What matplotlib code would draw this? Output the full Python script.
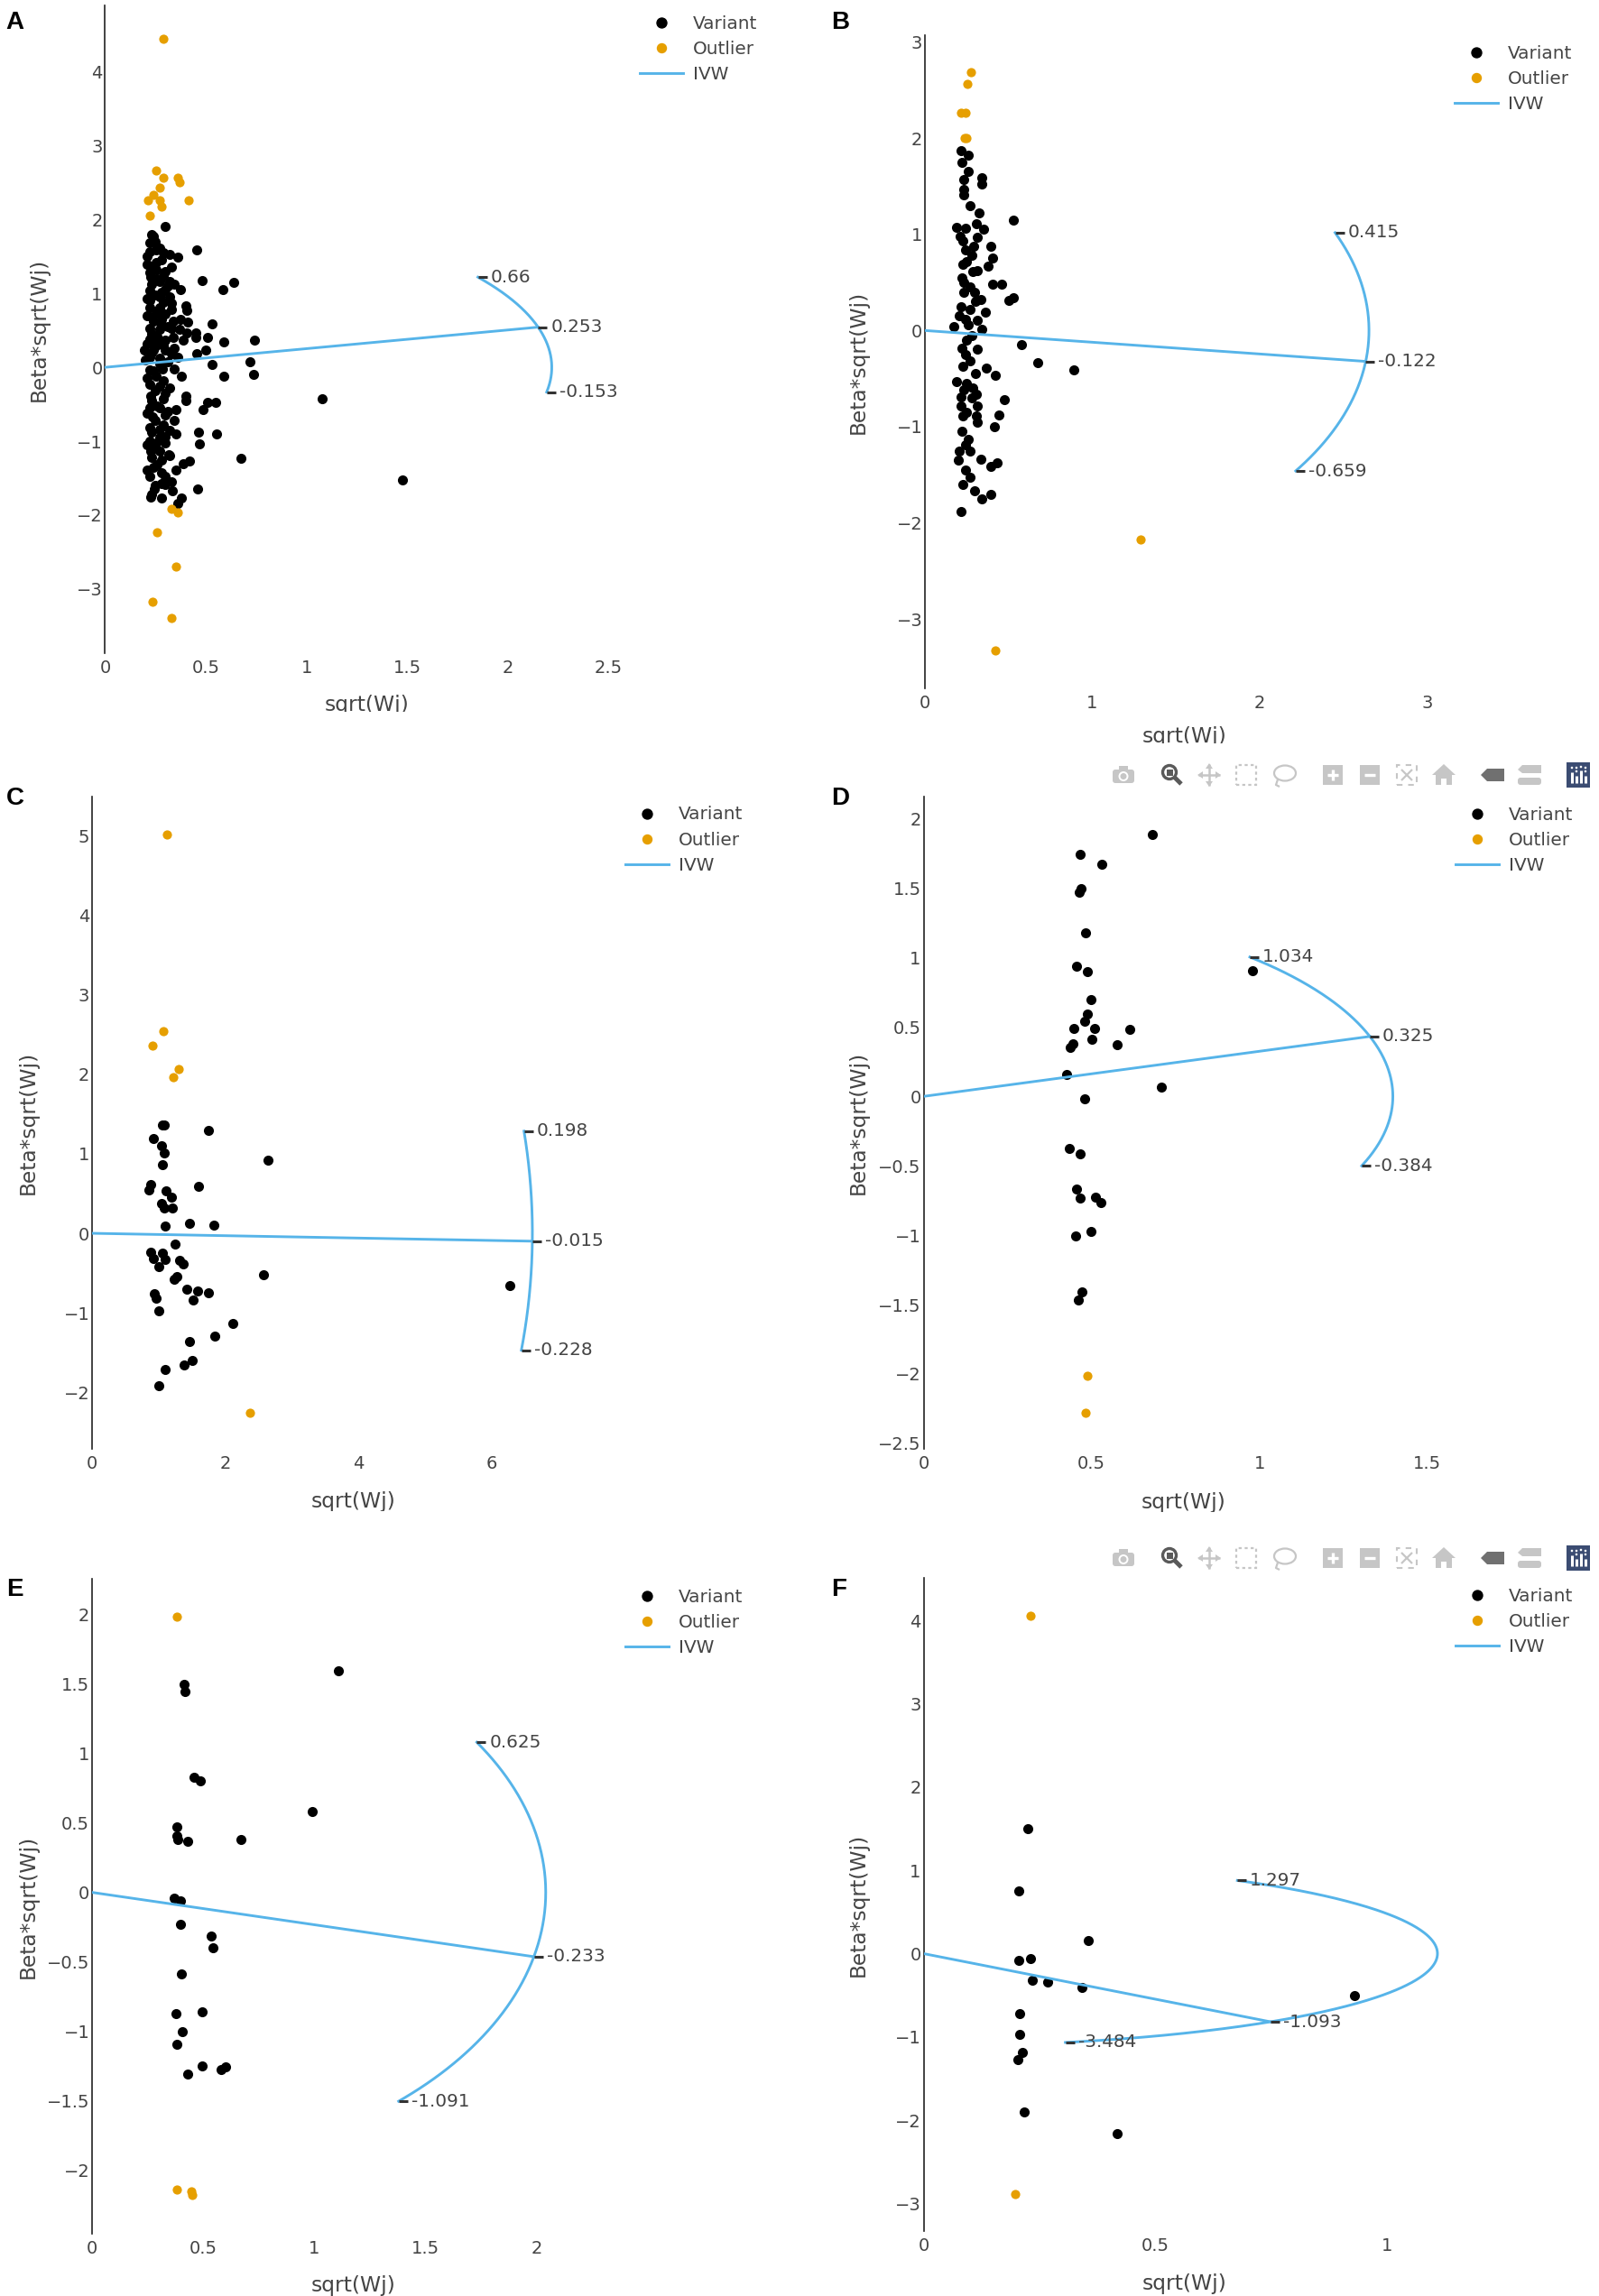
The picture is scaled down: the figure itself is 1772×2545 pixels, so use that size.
import numpy as np
import matplotlib.pyplot as plt
from matplotlib.lines import Line2D
from matplotlib.patches import Rectangle, Circle, Ellipse, Polygon, FancyBboxPatch
from matplotlib.transforms import IdentityTransform, ScaledTranslation

W, H = 1772, 2545
DPI = 100
GRAY = '#444444'
ORANGE = '#E69F00'
BLUE = '#56B4E9'

# ---------------- data ----------------
# panel A
a_variants = [
    (0.30, 1.91), (0.24, 1.77), (0.22, 1.69), (0.22, 1.57), (0.255, 1.59), (0.29, 1.55), (0.32, 1.53),
    (0.36, 1.49), (0.455, 1.59), (0.21, 1.40), (0.255, 1.42), (0.33, 1.36), (0.255, 1.32), (0.225, 1.22),
    (0.29, 1.24), (0.27, 1.16), (0.32, 1.16), (0.345, 1.12), (0.48, 1.17), (0.64, 1.15), (0.585, 1.057),
    (0.22, 1.04), (0.30, 1.057), (0.375, 1.057), (0.21, 0.935), (0.27, 0.955), (0.33, 0.875), (0.22, 0.81),
    (0.27, 0.81), (0.40, 0.83), (0.405, 0.77), (0.235, 0.69), (0.28, 0.65), (0.34, 0.63), (0.375, 0.65),
    (0.41, 0.61), (0.53, 0.59), (0.22, 0.53), (0.27, 0.51), (0.33, 0.53), (0.37, 0.51), (0.405, 0.47),
    (0.45, 0.47), (0.45, 0.40), (0.51, 0.40), (0.59, 0.345), (0.74, 0.365), (0.22, 0.385), (0.255, 0.365),
    (0.30, 0.365), (0.34, 0.40), (0.39, 0.365), (0.195, 0.24), (0.24, 0.24), (0.30, 0.24), (0.345, 0.26),
    (0.50, 0.24), (0.455, 0.18), (0.36, 0.14), (0.22, 0.14), (0.27, 0.12), (0.72, 0.08), (0.53, 0.04),
    (0.22, -0.04), (0.285, -0.02), (0.345, -0.02), (0.38, -0.12), (0.59, -0.12), (0.735, -0.10),
    (0.255, -0.12), (0.22, -0.23), (0.27, -0.25), (0.225, -0.39), (0.30, -0.35), (0.40, -0.39),
    (0.40, -0.45), (0.51, -0.47), (0.55, -0.47), (0.485, -0.57), (0.22, -0.55), (0.27, -0.55),
    (0.35, -0.57), (0.235, -0.675), (0.30, -0.65), (0.345, -0.715), (0.22, -0.82), (0.27, -0.84),
    (0.35, -0.90), (0.465, -0.88), (0.555, -0.90), (0.30, -0.94), (0.47, -1.04), (0.22, -1.00),
    (0.255, -1.02), (0.225, -1.14), (0.27, -1.14), (0.315, -1.18), (0.675, -1.23), (0.39, -1.31),
    (0.42, -1.265), (0.21, -1.39), (0.24, -1.35), (0.28, -1.43), (0.35, -1.39), (0.28, -1.57),
    (0.30, -1.59), (0.245, -1.65), (0.335, -1.67), (0.46, -1.65), (0.225, -1.755), (0.28, -1.775),
    (0.38, -1.775), (0.36, -1.84), (1.076, -0.43), (1.476, -1.52),
    (0.23, 1.80), (0.25, 1.70), (0.27, 1.62), (0.21, 1.50), (0.28, 1.45), (0.24, 1.35), (0.30, 1.30),
    (0.22, 1.28), (0.26, 1.20), (0.31, 1.10), (0.23, 1.12), (0.28, 1.02), (0.25, 0.98), (0.32, 0.95),
    (0.22, 0.90), (0.29, 0.88), (0.26, 0.75), (0.30, 0.72), (0.21, 0.70), (0.33, 0.78), (0.24, 0.62),
    (0.28, 0.58), (0.31, 0.55), (0.23, 0.45), (0.26, 0.42), (0.29, 0.30), (0.21, 0.32), (0.25, 0.28),
    (0.33, 0.18), (0.23, 0.20), (0.27, 0.05), (0.31, 0.08), (0.20, 0.10), (0.24, -0.05), (0.29, -0.18),
    (0.21, -0.15), (0.32, -0.28), (0.25, -0.32), (0.23, -0.45), (0.29, -0.42), (0.26, -0.52),
    (0.31, -0.60), (0.21, -0.62), (0.25, -0.72), (0.29, -0.78), (0.23, -0.88), (0.32, -0.85),
    (0.27, -0.95), (0.21, -1.05), (0.30, -1.02), (0.25, -1.10), (0.23, -1.22), (0.28, -1.25),
    (0.32, -1.20), (0.26, -1.32), (0.22, -1.48), (0.30, -1.48), (0.25, -1.60), (0.33, -1.55),
    (0.23, -1.72),
]
a_outliers = [
    (0.29, 4.45), (0.255, 2.67), (0.29, 2.57), (0.36, 2.57), (0.37, 2.50), (0.27, 2.43), (0.24, 2.34),
    (0.215, 2.26), (0.27, 2.26), (0.28, 2.18), (0.415, 2.26), (0.22, 2.06), (0.33, -1.91), (0.36, -1.97),
    (0.26, -2.23), (0.35, -2.70), (0.235, -3.17), (0.33, -3.39),
]
a_est = [0.66, 0.253, -0.153]     # upper, IVW, lower
a_radius = 2.217

# panel B
b_variants = [
    (0.215, 1.87), (0.26, 1.82), (0.26, 1.65), (0.234, 1.57), (0.34, 1.59), (0.34, 1.52), (0.234, 1.47),
    (0.234, 1.41), (0.323, 1.22), (0.53, 1.15), (0.189, 1.07), (0.24, 1.06), (0.305, 1.11), (0.35, 1.05),
    (0.314, 0.967), (0.225, 0.935), (0.395, 0.875), (0.24, 0.84), (0.278, 0.78), (0.404, 0.75),
    (0.377, 0.67), (0.225, 0.685), (0.287, 0.61), (0.404, 0.48), (0.46, 0.48), (0.234, 0.50),
    (0.296, 0.40), (0.234, 0.40), (0.332, 0.325), (0.53, 0.34), (0.503, 0.31), (0.215, 0.25),
    (0.27, 0.215), (0.359, 0.19), (0.206, 0.15), (0.314, 0.105), (0.17, 0.044), (0.26, 0.06),
    (0.341, 0.013), (0.25, -0.097), (0.314, -0.19), (0.24, -0.25), (0.575, -0.145), (0.225, -0.375),
    (0.368, -0.39), (0.673, -0.33), (0.422, -0.47), (0.189, -0.535), (0.25, -0.55), (0.287, -0.596),
    (0.215, -0.69), (0.305, -0.66), (0.476, -0.72), (0.215, -0.78), (0.314, -0.78), (0.225, -0.89),
    (0.305, -0.89), (0.44, -0.88), (0.413, -1.0), (0.26, -1.13), (0.24, -1.19), (0.206, -1.25),
    (0.198, -1.35), (0.332, -1.34), (0.395, -1.41), (0.431, -1.38), (0.27, -1.53), (0.225, -1.60),
    (0.296, -1.67), (0.341, -1.75), (0.395, -1.70), (0.215, -1.88), (0.89, -0.41),
    (0.22, 1.75), (0.27, 1.30), (0.21, 0.98), (0.29, 0.88), (0.25, 0.72), (0.31, 0.62), (0.22, 0.55),
    (0.27, 0.45), (0.30, 0.30), (0.24, 0.12), (0.28, -0.05), (0.22, -0.18), (0.27, -0.32), (0.30, -0.45),
    (0.23, -0.62), (0.28, -0.70), (0.25, -0.85), (0.31, -0.95), (0.22, -1.05), (0.27, -1.25),
    (0.24, -1.45),
]
b_outliers = [
    (0.275, 2.69), (0.254, 2.56), (0.214, 2.26), (0.245, 2.26), (0.236, 2.0), (0.25, 2.0),
    (1.286, -2.17), (0.422, -3.33),
]
b_est = [0.415, -0.122, -0.659]
b_radius = 2.653

# panel C
c_variants = [
    (1.06, 1.36), (1.09, 1.36), (1.75, 1.29), (0.92, 1.19), (1.04, 1.10), (1.09, 1.01), (1.06, 0.86),
    (2.65, 0.92), (0.885, 0.61), (0.86, 0.55), (1.6, 0.59), (1.115, 0.53), (1.19, 0.45), (1.04, 0.38),
    (1.08, 0.32), (1.21, 0.32), (1.10, 0.09), (1.46, 0.12), (1.83, 0.105), (1.25, -0.14), (0.885, -0.235),
    (0.92, -0.315), (1.06, -0.25), (1.10, -0.33), (1.0, -0.42), (1.31, -0.34), (1.37, -0.38),
    (1.27, -0.545), (1.23, -0.575), (2.58, -0.526), (1.42, -0.70), (1.58, -0.73), (1.75, -0.75),
    (1.52, -0.835), (0.94, -0.76), (0.96, -0.82), (1.0, -0.98), (2.115, -1.13), (1.85, -1.29),
    (1.46, -1.36), (1.5, -1.60), (1.385, -1.66), (1.10, -1.71), (1.0, -1.92), (6.28, -0.656),
]
c_outliers = [(1.13, 5.02), (1.07, 2.54), (0.915, 2.36), (1.30, 2.07), (1.22, 1.96), (2.37, -2.26)]
c_est = [0.198, -0.015, -0.228]
c_radius = 6.616

# panel D
d_variants = [
    (0.68, 1.89), (0.467, 1.747), (0.531, 1.672), (0.47, 1.50), (0.464, 1.47), (0.482, 1.177),
    (0.456, 0.937), (0.488, 0.90), (0.978, 0.904), (0.499, 0.70), (0.487, 0.596), (0.479, 0.54),
    (0.446, 0.49), (0.508, 0.49), (0.613, 0.48), (0.50, 0.41), (0.444, 0.38), (0.437, 0.356),
    (0.575, 0.375), (0.427, 0.157), (0.707, 0.064), (0.479, -0.015), (0.435, -0.375), (0.467, -0.416),
    (0.455, -0.667), (0.465, -0.731), (0.511, -0.724), (0.528, -0.765), (0.497, -0.971),
    (0.452, -1.009), (0.472, -1.406), (0.462, -1.47),
]
d_outliers = [(0.487, -2.013), (0.482, -2.28)]
d_est = [1.034, 0.325, -0.384]
d_radius = 1.397

# panel E
e_variants = [
    (1.107, 1.597), (0.413, 1.498), (0.42, 1.445), (0.459, 0.828), (0.489, 0.804), (0.992, 0.585),
    (0.383, 0.472), (0.381, 0.405), (0.385, 0.381), (0.431, 0.37), (0.669, 0.381), (0.369, -0.039),
    (0.397, -0.06), (0.399, -0.233), (0.535, -0.314), (0.544, -0.402), (0.401, -0.585), (0.378, -0.871),
    (0.496, -0.86), (0.406, -1.005), (0.383, -1.093), (0.494, -1.248), (0.431, -1.311), (0.581, -1.276),
    (0.60, -1.258),
]
e_outliers = [(0.383, 1.988), (0.383, -2.14), (0.448, -2.157), (0.45, -2.18)]
e_est = [0.625, -0.233, -1.091]
e_radius = 2.042

# panel F
f_variants = [
    (0.2246, 1.502), (0.2046, 0.757), (0.356, 0.162), (0.2046, -0.078), (0.231, -0.06), (0.2356, -0.318),
    (0.268, -0.343), (0.342, -0.403), (0.929, -0.499), (0.208, -0.721), (0.208, -0.974), (0.2135, -1.184),
    (0.2035, -1.268), (0.218, -1.899), (0.417, -2.157),
]
f_outliers = [(0.23, 4.056), (0.197, -2.89)]
f_est = [1.297, -1.093, -3.484]
f_radius = 1.109

fig = plt.figure(figsize=(W / DPI, H / DPI), dpi=DPI)
plt.rcParams['font.family'] = 'DejaVu Sans'

T = IdentityTransform()


def add(p):
    p.set_transform(T)
    fig.add_artist(p)


def fmt(v):
    s = f'{v:g}'
    return s.replace('-', '\u2212')


def panel(letter, box, xlim, ylim, xticks, yticks, variants, outliers, est, radius,
          letter_pos, xlab_base, crop, ylab_x):
    left, top, width, height = box
    ax = fig.add_axes([left / W, 1 - (top + height) / H, width / W, height / H])
    ax.set_xlim(*xlim)
    ax.set_ylim(*ylim)
    for s in ['top', 'right', 'bottom']:
        ax.spines[s].set_visible(False)
    ax.spines['left'].set_color('#222222')
    ax.spines['left'].set_linewidth(1.2)
    ax.set_xticks(xticks)
    ax.set_yticks(yticks)
    ax.set_xticklabels([fmt(v) for v in xticks])
    ax.set_yticklabels([fmt(v) for v in yticks])
    ax.tick_params(length=0, labelsize=14, colors=GRAY)
    ax.tick_params(axis='x', pad=5)
    ax.tick_params(axis='y', pad=2)

    vx, vy = np.array(variants).T
    ox, oy = np.array(outliers).T
    ax.scatter(vx, vy, s=64, c='black', linewidths=0, zorder=2)
    ax.scatter(ox, oy, s=54, c=ORANGE, linewidths=0, zorder=2.5)

    hi, ivw, lo = est
    th = np.linspace(np.arctan(hi), np.arctan(lo), 300)
    ax.plot(radius * np.cos(th), radius * np.sin(th), color=BLUE, lw=2.1, zorder=3)
    ti = np.arctan(ivw)
    ax.plot([0, radius * np.cos(ti)], [0, radius * np.sin(ti)], color=BLUE, lw=2.1, zorder=3)

    shift = ax.transData + ScaledTranslation(5 / DPI, 0, fig.dpi_scale_trans)
    for b in est:
        t = np.arctan(b)
        px, py = radius * np.cos(t), radius * np.sin(t)
        ax.plot([px], [py], marker='_', ms=7.5, mew=2.2, color='#333333',
                transform=shift, clip_on=False, zorder=4)
        ax.annotate(f'{b:g}', (px, py), xytext=(14, 0), textcoords='offset pixels',
                    ha='left', va='center', fontsize=14.4, color=GRAY, zorder=5)

    handles = [Line2D([], [], ls='', marker='o', color='black', ms=7.9),
               Line2D([], [], ls='', marker='o', color=ORANGE, ms=7.2),
               Line2D([], [], color=BLUE, lw=2.1)]
    ax.legend(handles, ['Variant', 'Outlier', 'IVW'], loc='upper left',
              bbox_to_anchor=(1 + 12 / width, 1 - 11 / height), frameon=False,
              borderpad=0, borderaxespad=0, handlelength=2.4, handletextpad=0.55,
              labelspacing=0.46, fontsize=14.4, labelcolor=GRAY)

    fig.text(letter_pos[0] / W, 1 - letter_pos[1] / H, letter, ha='left', va='baseline',
             fontsize=20, fontweight='bold', family='Liberation Sans', color='black')
    fig.text((left + width / 2) / W, 1 - xlab_base / H, 'sqrt(Wj)', ha='center',
             va='baseline', fontsize=16.8, color=GRAY, zorder=1)
    # screenshot crop line under the axis title
    if crop < H:
        cover = Rectangle((left - 20, H - crop - 14), width + 40, 14, fc='white', ec='none', zorder=20)
        add(cover)
    fig.text(ylab_x / W, 1 - (top + height / 2) / H, 'Beta*sqrt(Wj)', ha='center',
             va='center', rotation=90, fontsize=16.8, color=GRAY)
    return ax


panel('A', (116.4, 6, 580.6, 718), (0, 2.6), (-3.87, 4.9), [0, 0.5, 1, 1.5, 2, 2.5],
      [-3, -2, -1, 0, 1, 2, 3, 4], a_variants, a_outliers, a_est, a_radius,
      (6, 32), 788, 789, 43)
panel('B', (1025, 39, 575, 724), (0, 3.1), (-3.72, 3.07), [0, 1, 2, 3],
      [-3, -2, -1, 0, 1, 2, 3], b_variants, b_outliers, b_est, b_radius,
      (921, 32), 823, 824, 951)
panel('C', (102, 882.5, 579, 723.3), (0, 7.85), (-2.71, 5.5), [0, 2, 4, 6],
      [-2, -1, 0, 1, 2, 3, 4, 5], c_variants, c_outliers, c_est, c_radius,
      (7, 892), 1671, 1675, 31)
panel('D', (1023.5, 883, 577, 723), (0, 1.55), (-2.54, 2.16), [0, 0.5, 1, 1.5],
      [-2.5, -2, -1.5, -1, -0.5, 0, 0.5, 1, 1.5, 2], d_variants, d_outliers, d_est, d_radius,
      (921, 892), 1672, 1676, 951)
panel('E', (102, 1750, 578.6, 726), (0, 2.35), (-2.46, 2.26), [0, 0.5, 1, 1.5, 2],
      [-2, -1.5, -1, -0.5, 0, 0.5, 1, 1.5, 2], e_variants, e_outliers, e_est, e_radius,
      (7, 1769), 2540, H, 31)
panel('F', (1023.5, 1749, 577.7, 724), (0, 1.125), (-3.33, 4.51), [0, 0.5, 1],
      [-3, -2, -1, 0, 1, 2, 3, 4], f_variants, f_outliers, f_est, f_radius,
      (921, 1769), 2538, H, 951)

# ---------------- plotly mode bar (panels D and F) ----------------
LG = '#c6c6c6'
DG = '#5a5a5a'


def line(xs, ys, color, lw, ls='-'):
    add(Line2D(xs, [H - y for y in ys], color=color, lw=lw, ls=ls, solid_capstyle='butt'))


def modebar(yc):
    # camera
    cx = 1245
    add(FancyBboxPatch((cx - 12, H - (yc + 9)), 24, 15, boxstyle='round,pad=0,rounding_size=3',
                       fc=LG, ec='none'))
    add(Rectangle((cx - 5, H - (yc - 6)), 10, 4, fc=LG, ec='none'))
    add(Circle((cx, H - (yc + 1.5)), 5.5, fc='white', ec='none'))
    add(Circle((cx, H - (yc + 1.5)), 3.5, fc=LG, ec='none'))
    # zoom
    cx = 1299
    add(Circle((cx - 3, H - (yc - 3)), 7.5, fill=False, ec=DG, lw=2.4))
    add(Rectangle((cx - 6.5, H - (yc + 0.5)), 7, 7, fc=DG, ec='none'))
    line([cx + 2, cx + 10], [yc + 2, yc + 10], DG, 3.5)
    # pan
    cx = 1340
    line([cx - 12, cx + 12], [yc, yc], LG, 1.8)
    line([cx, cx], [yc - 12, yc + 12], LG, 1.8)
    for dx, dy in [(1, 0), (-1, 0), (0, 1), (0, -1)]:
        tip = (cx + 13 * dx, yc + 13 * dy)
        base = (cx + 7 * dx, yc + 7 * dy)
        pts = [(tip[0], H - tip[1]),
               (base[0] + 4 * dy, H - (base[1] + 4 * dx)),
               (base[0] - 4 * dy, H - (base[1] - 4 * dx))]
        add(Polygon(pts, closed=True, fc=LG, ec='none'))
    # box select
    cx = 1381
    add(Rectangle((cx - 11, H - (yc + 11)), 22, 22, fill=False, ec=LG, lw=1.6, ls=(0, (1.5, 1.5))))
    # lasso
    cx = 1423
    add(Ellipse((cx + 1, H - (yc - 2)), 24, 17, fill=False, ec=LG, lw=1.6))
    line([cx - 7, cx - 9, cx - 5], [yc + 5, yc + 11, yc + 13], LG, 1.6)
    # zoom in / out
    for cx, plus in [(1477, True), (1518, False)]:
        add(Rectangle((cx - 11, H - (yc + 11)), 22, 22, fc=LG, ec='none'))
        line([cx - 6, cx + 6], [yc, yc], 'white', 2.4)
        if plus:
            line([cx, cx], [yc - 6, yc + 6], 'white', 2.4)
    # autoscale
    cx = 1559
    add(Rectangle((cx - 11, H - (yc + 11)), 22, 22, fill=False, ec=LG, lw=1.5, ls=(0, (3, 3))))
    line([cx - 6, cx + 6], [yc - 6, yc + 6], LG, 1.6)
    line([cx - 6, cx + 6], [yc + 6, yc - 6], LG, 1.6)
    # home
    cx = 1600
    add(Polygon([(cx, H - (yc - 12)), (cx + 13, H - yc), (cx + 9, H - yc), (cx + 9, H - (yc + 11)),
                 (cx + 3, H - (yc + 11)), (cx + 3, H - (yc + 4)), (cx - 3, H - (yc + 4)),
                 (cx - 3, H - (yc + 11)), (cx - 9, H - (yc + 11)), (cx - 9, H - yc),
                 (cx - 13, H - yc)], closed=True, fc=LG, ec='none'))
    # show closest (tag)
    cx = 1654
    add(Polygon([(cx - 13, H - yc), (cx - 6, H - (yc - 7)), (cx + 13, H - (yc - 7)),
                 (cx + 13, H - (yc + 7)), (cx - 6, H - (yc + 7))], closed=True, fc='#707070', ec='none'))
    # compare
    cx = 1695
    add(Polygon([(cx - 13, H - (yc - 6)), (cx - 8, H - (yc - 11)), (cx + 13, H - (yc - 11)),
                 (cx + 13, H - (yc - 2)), (cx - 8, H - (yc - 2))], closed=True, fc=LG, ec='none'))
    add(FancyBboxPatch((cx - 13, H - (yc + 11)), 26, 8, boxstyle='round,pad=0,rounding_size=3',
                       fc=LG, ec='none'))
    # plotly logo
    cx = 1749
    add(Rectangle((cx - 13, H - (yc + 14)), 26, 28, fc='#3b4c72', ec='none'))
    for dx, top_y in [(-7, -3), (-2, 1), (3, -5), (8, 1)]:
        line([cx + dx, cx + dx], [yc + top_y, yc + 9], 'white', 2.2)
    for dx, dy in [(-7, -8), (-2, -8), (3, -9), (8, -8), (-2, -4), (8, -4)]:
        add(Circle((cx + dx, H - (yc + dy)), 1.3, fc='white', ec='none'))


modebar(859)
modebar(1727)

fig.savefig('out.png', dpi=DPI)
